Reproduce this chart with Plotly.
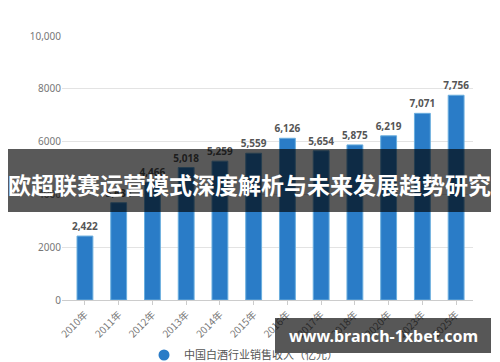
import plotly.graph_objects as go

years = ["2010年", "2011年", "2012年", "2013年", "2014年", "2015年",
         "2016年", "2017年", "2018年", "2020年", "2023年", "2025年"]
revenue = [2422, 3686, 4466, 5018, 5259, 5559, 6126, 5654, 5875, 6219, 7071, 7756]
y_ticks = [0, 2000, 4000, 6000, 8000, 10000]
y_tick_text = ["0", "2000", "4000", "6000", "8000", "10,000"]
series_name = "中国白酒行业销售收入（亿元）"
banner_text = "欧超联赛运营模式深度解析与未来发展趋势研究"
site_text = "www.branch-1xbet.com"

W, H = 500, 362
L, R, T, B = 62, 27, 36, 62
pw, ph = W - L - R, H - T - B


def px(x):
    return (x - L) / pw


def py(y):
    return (H - B - y) / ph


fig = go.Figure()
fig.add_trace(go.Bar(
    x=years, y=revenue,
    marker=dict(color="#2a7cc7", line=dict(color="#6aaede", width=1)),
    texttemplate="<b>%{y:,}</b>", textposition="outside", constraintext="none",
    textfont=dict(size=10, color="#555555", family="Noto Sans"),
    cliponaxis=False, showlegend=False,
))
fig.add_trace(go.Scatter(
    x=[None], y=[None], mode="markers", name=series_name,
    marker=dict(symbol="circle", size=11, color="#2a7cc7"),
))

fig.update_layout(
    width=W, height=H,
    margin=dict(l=L, r=R, t=T, b=B, autoexpand=False),
    paper_bgcolor="white", plot_bgcolor="white",
    bargap=0.53,
    font=dict(family="Noto Sans CJK SC", color="#666666"),
    xaxis=dict(
        range=[-0.68, 11.5],
        tickangle=-45, tickfont=dict(size=10, color="#777777"),
        showline=True, linecolor="#cccccc", linewidth=1,
        ticks="outside", ticklen=4, tickcolor="#cccccc",
        showgrid=False, automargin=False,
    ),
    yaxis=dict(
        range=[0, 10000], tickvals=y_ticks, ticktext=y_tick_text,
        tickfont=dict(size=10, color="#777777", family="Noto Sans"),
        showgrid=True, gridcolor="#e3e3e3", gridwidth=1,
        zeroline=False, ticks="", ticklen=0, automargin=False,
    ),
    legend=dict(
        orientation="h", x=px(144), y=py(355), xanchor="left", yanchor="middle",
        font=dict(size=11, color="#555555"), bgcolor="rgba(0,0,0,0)",
    ),
    shapes=[
        dict(type="rect", xref="paper", yref="paper", layer="above",
             x0=px(8), x1=px(491), y0=py(212), y1=py(149),
             fillcolor="rgba(0,0,0,0.65)", line=dict(width=0)),
        dict(type="rect", xref="paper", yref="paper", layer="above",
             x0=px(275), x1=px(491), y0=py(353), y1=py(318),
             fillcolor="rgba(0,0,0,0.66)", line=dict(width=0)),
    ],
    annotations=[
        dict(text="<b>" + banner_text + "</b>", xref="paper", yref="paper",
             x=px(249), y=py(184), xanchor="center", yanchor="middle",
             showarrow=False,
             font=dict(size=23, color="white", family="Noto Sans CJK SC")),
        dict(text="<b>" + site_text + "</b>", xref="paper", yref="paper",
             x=px(383), y=py(336), xanchor="center", yanchor="middle",
             showarrow=False,
             font=dict(size=16, color="white", family="Noto Sans")),
    ],
)

fig.write_html("out.html")
